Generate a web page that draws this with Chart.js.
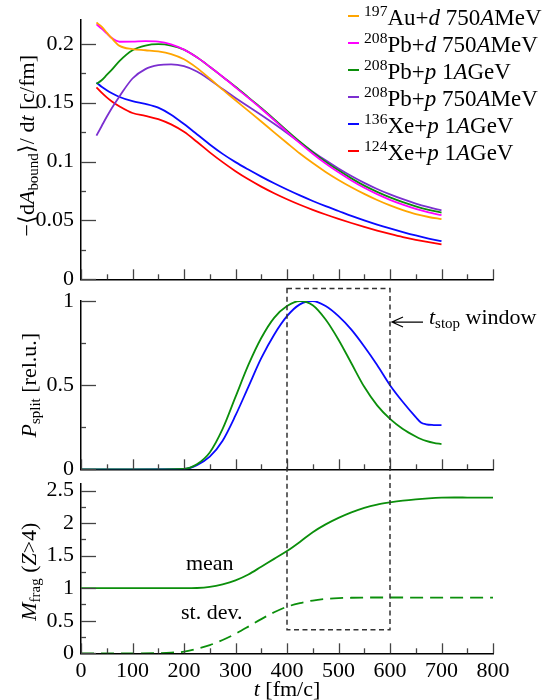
<!DOCTYPE html>
<html>
<head>
<meta charset="utf-8">
<script src="https://cdn.jsdelivr.net/npm/chart.js@4.4.1/dist/chart.umd.min.js"></script>
<style>
  body { margin: 0; background: #fff; }
  #wrap { position: relative; width: 546px; height: 700px; }
  #wrap canvas { position: absolute; left: 0; top: 0; }
</style>
</head>
<body>
<div id="wrap">
  <canvas id="rate" width="546" height="700"></canvas>
  <canvas id="split" width="546" height="700"></canvas>
  <canvas id="frag" width="546" height="700"></canvas>
</div>
<script>
// ---- data: -<dA_bound>/dt [c/fm] vs t [fm/c]
const tRate = [30, 40, 50, 60, 75, 100, 125, 150, 175, 200, 225, 250, 275, 300, 325, 350, 375, 400, 425, 450, 475, 500, 525, 550, 575, 600, 625, 650, 675, 700];
const rateAuD750 = [0.218, 0.2145, 0.2095, 0.2045, 0.1982, 0.1955, 0.1945, 0.1935, 0.1912, 0.1868, 0.1795, 0.1705, 0.161, 0.152, 0.143, 0.134, 0.1248, 0.1157, 0.1068, 0.0987, 0.0912, 0.0844, 0.0782, 0.0725, 0.0673, 0.0627, 0.0587, 0.0553, 0.0529, 0.0511];
const ratePbD750 = [0.2165, 0.2128, 0.2088, 0.2048, 0.2017, 0.2018, 0.2022, 0.2018, 0.1995, 0.195, 0.1885, 0.1805, 0.172, 0.163, 0.154, 0.1448, 0.1352, 0.1252, 0.1156, 0.1066, 0.0983, 0.0908, 0.0839, 0.0777, 0.0723, 0.0675, 0.0634, 0.0598, 0.0568, 0.0544];
const ratePbP1 = [0.166, 0.169, 0.1735, 0.178, 0.1855, 0.1945, 0.1985, 0.1997, 0.1985, 0.195, 0.1885, 0.1805, 0.172, 0.1635, 0.1545, 0.1455, 0.136, 0.1262, 0.1168, 0.108, 0.0998, 0.0925, 0.0857, 0.0795, 0.0742, 0.0695, 0.0655, 0.062, 0.059, 0.0566];
const ratePbP750 = [0.122, 0.130, 0.138, 0.1455, 0.1555, 0.1705, 0.1785, 0.1818, 0.1825, 0.181, 0.1765, 0.1695, 0.1615, 0.154, 0.1468, 0.1395, 0.132, 0.1242, 0.1162, 0.1084, 0.101, 0.0941, 0.0877, 0.0819, 0.0767, 0.0721, 0.068, 0.0643, 0.0612, 0.0585];
const rateXe136 = [0.167, 0.1635, 0.1605, 0.158, 0.1548, 0.1512, 0.149, 0.1458, 0.1398, 0.1318, 0.1232, 0.1145, 0.1065, 0.0995, 0.0932, 0.0872, 0.0815, 0.0762, 0.0712, 0.0665, 0.0621, 0.058, 0.0539, 0.0501, 0.0465, 0.0432, 0.0401, 0.0372, 0.0346, 0.0324];
const rateXe124 = [0.163, 0.1585, 0.1545, 0.151, 0.1468, 0.1412, 0.1388, 0.136, 0.1315, 0.1252, 0.1168, 0.1078, 0.0995, 0.0918, 0.0849, 0.0787, 0.0731, 0.068, 0.0633, 0.059, 0.055, 0.0513, 0.0478, 0.0445, 0.0414, 0.0385, 0.0358, 0.0335, 0.0315, 0.0297];

// ---- data: P_split [rel.u.]
const tSplit = [0, 100, 200, 225, 250, 275, 300, 325, 350, 375, 400, 425, 450, 475, 500, 525, 550, 575, 600, 625, 650, 660, 670, 685, 700];
const splitPbP1 = [0, 0, 0.003, 0.03, 0.10, 0.24, 0.43, 0.62, 0.78, 0.90, 0.97, 1.0, 0.975, 0.89, 0.77, 0.63, 0.49, 0.38, 0.30, 0.24, 0.195, 0.18, 0.169, 0.157, 0.150];
const splitXe136 = [0, 0, 0.002, 0.025, 0.075, 0.17, 0.32, 0.49, 0.66, 0.80, 0.91, 0.98, 1.0, 0.97, 0.91, 0.83, 0.73, 0.62, 0.50, 0.40, 0.31, 0.278, 0.267, 0.263, 0.262];

// ---- data: M_frag (Z>4)
const tFrag = [0, 50, 100, 150, 175, 200, 225, 250, 275, 300, 325, 350, 375, 400, 425, 450, 475, 500, 525, 550, 575, 600, 625, 650, 675, 700, 725, 750, 800];
const fragMean = [1, 1, 1, 1, 1, 1, 1.003, 1.02, 1.06, 1.12, 1.21, 1.33, 1.45, 1.57, 1.71, 1.86, 1.98, 2.08, 2.165, 2.235, 2.285, 2.318, 2.345, 2.365, 2.38, 2.39, 2.393, 2.392, 2.39];
const fragStdDev = [0, 0, 0, 0.003, 0.01, 0.025, 0.07, 0.125, 0.205, 0.30, 0.41, 0.525, 0.63, 0.715, 0.77, 0.81, 0.835, 0.848, 0.853, 0.856, 0.857, 0.857, 0.857, 0.856, 0.856, 0.856, 0.855, 0.855, 0.855];

// t_stop window (fm/c), plus its vertical extent on the P_split and M_frag scales
const stopWindow = [400, 600];
const windowTopSplit = 1.075;
const windowBottomFrag = 0.36;

const FONT = '"Liberation Serif", "Times New Roman", serif';

function pts(ts, vs) { return ts.map((t, i) => ({ x: t, y: vs[i] })); }

// draw a run of text pieces: {t, it: italic, sub, sup}
function drawRich(ctx, segs, x, y, size, align) {
  const parts = segs.map(s => {
    const fs = (s.sub || s.sup) ? size * 0.68 : size;
    const font = (s.it ? 'italic ' : '') + fs + 'px ' + FONT;
    ctx.font = font;
    const dy = s.sub ? size * 0.2 : s.sup ? -size * 0.38 : 0;
    return { t: s.t, font, dy, w: ctx.measureText(s.t).width };
  });
  const total = parts.reduce((a, p) => a + p.w, 0);
  let cx = align === 'center' ? x - total / 2 : align === 'right' ? x - total : x;
  ctx.textAlign = 'left';
  ctx.textBaseline = 'alphabetic';
  ctx.fillStyle = '#000';
  for (const p of parts) {
    ctx.font = p.font;
    ctx.fillText(p.t, cx, y + p.dy);
    cx += p.w;
  }
  return total;
}

// small inward ticks on both axes
const innerTicks = {
  id: 'innerTicks',
  afterDraw(chart, args, opts) {
    const ctx = chart.ctx;
    const { x, y } = chart.scales;
    const a = chart.chartArea;
    const isMajor = (v, step) => Math.abs(v / step - Math.round(v / step)) < 1e-6;
    ctx.save();
    ctx.strokeStyle = '#444';
    ctx.lineWidth = 1.3;
    for (let v = x.min; v <= x.max + 1e-9; v += opts.xMinor) {
      const px = Math.round(x.getPixelForValue(v)) + 0.5;
      const len = isMajor(v, opts.xMajor) ? 10 : 5;
      ctx.beginPath(); ctx.moveTo(px, a.bottom); ctx.lineTo(px, a.bottom - len); ctx.stroke();
    }
    for (let v = y.min; v <= y.max + 1e-9; v += opts.yMinor) {
      const py = Math.round(y.getPixelForValue(v)) + 0.5;
      const len = isMajor(v, opts.yMajor) ? 15 : 5;
      ctx.beginPath(); ctx.moveTo(a.left, py); ctx.lineTo(a.left + len, py); ctx.stroke();
    }
    ctx.restore();
  }
};

// axis titles and free labels
const richText = {
  id: 'richText',
  afterDraw(chart, args, opts) {
    const ctx = chart.ctx;
    const a = chart.chartArea;
    const { x, y } = chart.scales;
    ctx.save();
    if (opts.yTitle) {
      ctx.save();
      ctx.translate(opts.yTitleX, (a.top + a.bottom) / 2 + (opts.yTitleShift || 0));
      ctx.rotate(-Math.PI / 2);
      drawRich(ctx, opts.yTitle, 0, 0, 22, 'center');
      ctx.restore();
    }
    (opts.labels || []).forEach(l => {
      drawRich(ctx, l.segs, x.getPixelForValue(l.t), y.getPixelForValue(l.v), 22, l.align || 'center');
    });
    if (opts.xTitle) drawRich(ctx, opts.xTitle, (a.left + a.right) / 2, opts.xTitleY, 22, 'center');
    ctx.restore();
  }
};

function panelOptions(cfg) {
  return {
    responsive: false,
    animation: false,
    events: [],
    layout: { padding: cfg.padding },
    elements: { point: { radius: 0 }, line: { borderWidth: 1.8, cubicInterpolationMode: 'monotone' } },
    plugins: {
      legend: { display: false },
      tooltip: { enabled: false },
      innerTicks: cfg.ticks,
      richText: cfg.text
    },
    scales: {
      x: {
        type: 'linear', min: 0, max: 800,
        border: { color: '#000', width: 1.5 },
        grid: { drawOnChartArea: false, drawTicks: false },
        ticks: {
          display: cfg.xLabels, stepSize: 100, padding: 5, color: '#000',
          font: { family: FONT, size: 22 }
        },
        afterFit: s => { s.height = cfg.xHeight; }
      },
      y: {
        type: 'linear', min: cfg.yMin, max: cfg.yMax,
        border: { color: '#000', width: 1.5 },
        grid: { drawOnChartArea: false, drawTicks: false },
        ticks: {
          stepSize: cfg.ticks.yMajor, includeBounds: false, padding: 7, color: '#000',
          font: { family: FONT, size: 22 },
          callback: v => String(+v.toFixed(3))
        },
        afterFit: s => { s.width = 81; }
      }
    }
  };
}

// ---- panel 1: loss rate of bound nucleons
const rateSeries = [
  { data: rateAuD750, color: '#ffa500', label: [{ t: '197', sup: 1 }, { t: 'Au+' }, { t: 'd', it: 1 }, { t: ' 750' }, { t: 'A', it: 1 }, { t: 'MeV' }] },
  { data: ratePbD750, color: '#ff00ff', label: [{ t: '208', sup: 1 }, { t: 'Pb+' }, { t: 'd', it: 1 }, { t: ' 750' }, { t: 'A', it: 1 }, { t: 'MeV' }] },
  { data: ratePbP1, color: '#0b8f0b', label: [{ t: '208', sup: 1 }, { t: 'Pb+' }, { t: 'p', it: 1 }, { t: ' 1' }, { t: 'A', it: 1 }, { t: 'GeV' }] },
  { data: ratePbP750, color: '#7b2fd0', label: [{ t: '208', sup: 1 }, { t: 'Pb+' }, { t: 'p', it: 1 }, { t: ' 750' }, { t: 'A', it: 1 }, { t: 'MeV' }] },
  { data: rateXe136, color: '#0a0aff', label: [{ t: '136', sup: 1 }, { t: 'Xe+' }, { t: 'p', it: 1 }, { t: ' 1' }, { t: 'A', it: 1 }, { t: 'GeV' }] },
  { data: rateXe124, color: '#ff0000', label: [{ t: '124', sup: 1 }, { t: 'Xe+' }, { t: 'p', it: 1 }, { t: ' 1' }, { t: 'A', it: 1 }, { t: 'GeV' }] }
];

const rateLegend = {
  id: 'rateLegend',
  afterDraw(chart) {
    const ctx = chart.ctx;
    ctx.save();
    rateSeries.forEach((s, i) => {
      const yy = 16 + i * 27;
      ctx.strokeStyle = s.color;
      ctx.lineWidth = 2;
      ctx.beginPath(); ctx.moveTo(348, yy); ctx.lineTo(359, yy); ctx.stroke();
      drawRich(ctx, s.label, 364, yy + 8.5, 23, 'left');
    });
    ctx.restore();
  }
};

new Chart(document.getElementById('rate'), {
  type: 'line',
  data: {
    datasets: rateSeries.map(s => ({ data: pts(tRate, s.data), borderColor: s.color }))
  },
  options: panelOptions({
    padding: { top: 13, right: 53, bottom: 420.7, left: 0 },
    xLabels: false, xHeight: 0, yMin: 0, yMax: 0.22,
    ticks: { xMajor: 100, xMinor: 50, yMajor: 0.05, yMinor: 0.025 },
    text: {
      yTitleX: 34, yTitleShift: -4,
      yTitle: [{ t: '−⟨d' }, { t: 'A', it: 1 }, { t: 'bound', sub: 1 }, { t: '⟩/ d' }, { t: 't', it: 1 }, { t: ' [c/fm]' }]
    }
  }),
  plugins: [innerTicks, richText, rateLegend]
});

// ---- panel 2: splitting probability
const stopArrow = {
  id: 'stopArrow',
  afterDraw(chart) {
    const ctx = chart.ctx;
    const { x, y } = chart.scales;
    const tip = x.getPixelForValue(stopWindow[1]) + 2;
    const yy = y.getPixelForValue(0.875);
    ctx.save();
    ctx.strokeStyle = '#000';
    ctx.lineWidth = 1.2;
    ctx.beginPath();
    ctx.moveTo(tip, yy); ctx.lineTo(tip + 31, yy);
    ctx.moveTo(tip + 11, yy - 5); ctx.lineTo(tip, yy); ctx.lineTo(tip + 11, yy + 5);
    ctx.stroke();
    drawRich(ctx, [{ t: 't', it: 1 }, { t: 'stop', sub: 1 }, { t: ' window' }], tip + 37, yy + 2, 22, 'left');
    ctx.restore();
  }
};

const splitChart = new Chart(document.getElementById('split'), {
  type: 'line',
  data: {
    datasets: [
      { data: pts(tSplit, splitPbP1), borderColor: '#0b8f0b' },
      { data: pts(tSplit, splitXe136), borderColor: '#0a0aff' }
    ]
  },
  options: panelOptions({
    padding: { top: 301, right: 53, bottom: 230.7, left: 0 },
    xLabels: false, xHeight: 0, yMin: 0, yMax: 1,
    ticks: { xMajor: 100, xMinor: 50, yMajor: 0.5, yMinor: 0.25 },
    text: {
      yTitleX: 36,
      yTitle: [{ t: 'P', it: 1 }, { t: 'split', sub: 1 }, { t: ' [rel.u.]' }]
    }
  }),
  plugins: [innerTicks, richText, stopArrow]
});

// ---- panel 3: fragment multiplicity, with the t_stop window box over panels 2-3
const windowBox = {
  id: 'windowBox',
  afterDraw(chart) {
    const ctx = chart.ctx;
    const { x, y } = chart.scales;
    const l = x.getPixelForValue(stopWindow[0]);
    const r = x.getPixelForValue(stopWindow[1]);
    const top = splitChart.scales.y.getPixelForValue(windowTopSplit);
    const bottom = y.getPixelForValue(windowBottomFrag);
    ctx.save();
    ctx.strokeStyle = '#333';
    ctx.lineWidth = 1.5;
    ctx.setLineDash([5, 3.5]);
    ctx.strokeRect(l, top, r - l, bottom - top);
    ctx.restore();
  }
};

new Chart(document.getElementById('frag'), {
  type: 'line',
  data: {
    datasets: [
      { data: pts(tFrag, fragMean), borderColor: '#0b8f0b' },
      { data: pts(tFrag, fragStdDev), borderColor: '#0b8f0b', borderDash: [13, 7] }
    ]
  },
  options: panelOptions({
    padding: { top: 484, right: 53, bottom: 0, left: 0 },
    xLabels: true, xHeight: 46.7, yMin: 0, yMax: 2.6,
    ticks: { xMajor: 100, xMinor: 50, yMajor: 0.5, yMinor: 0.25 },
    text: {
      yTitleX: 36, yTitleShift: 3,
      yTitle: [{ t: 'M', it: 1 }, { t: 'frag', sub: 1 }, { t: ' (' }, { t: 'Z', it: 1 }, { t: '>4)' }],
      labels: [
        { t: 250, v: 1.28, segs: [{ t: 'mean' }] },
        { t: 254, v: 0.53, segs: [{ t: 'st. dev.' }] }
      ],
      xTitle: [{ t: 't', it: 1 }, { t: ' [fm/c]' }],
      xTitleY: 696
    }
  }),
  plugins: [innerTicks, richText, windowBox]
});
</script>
</body>
</html>
